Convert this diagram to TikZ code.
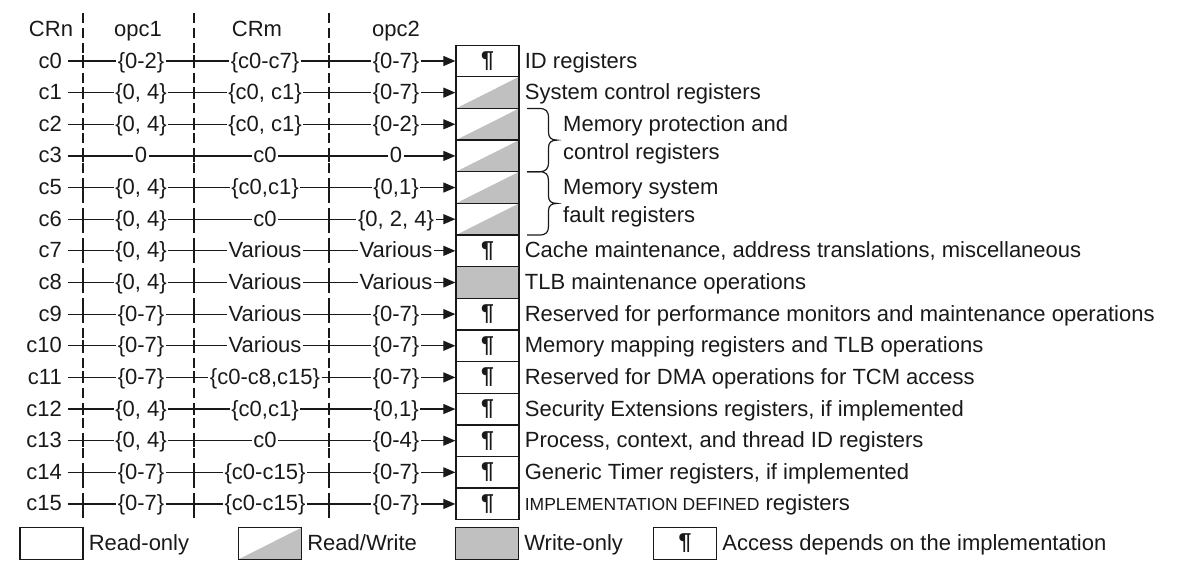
\documentclass[tikz,border=0pt]{standalone}
\usepackage{fontspec}
\setmainfont{Liberation Sans}
\usepackage{tikz}
\usetikzlibrary{arrows.meta,positioning}

\definecolor{ink}{RGB}{25,25,25}
\definecolor{regfill}{RGB}{192,192,192}

\tikzset{
  lab/.style={inner ysep=0pt, text height=16pt, text depth=2pt},
  crnlab/.style={lab, anchor=east, inner xsep=6pt},
  fld/.style={lab, inner xsep=1.5pt},
  reg/.style={draw=ink, line width=1.3pt, minimum width=63pt, minimum height=31.64pt, inner sep=0pt, font=\fontsize{23}{26}\bfseries},
  ro/.style={reg},
  rw/.style={reg, path picture={\fill[regfill] (path picture bounding box.south west) -- (path picture bounding box.north east) -- (path picture bounding box.south east) -- cycle;}},
  wo/.style={reg, fill=regfill},
  impl/.style={reg},
  desc/.style={lab, anchor=west, inner xsep=0pt},
  bracetxt/.style={anchor=west, align=left, inner sep=0pt, font=\fontsize{22}{28}\selectfont},
  rowline/.style={line width=1.2pt, -{Triangle[length=12pt,width=10pt]}},
  tick/.style={line width=1.3pt},
  divider/.style={line width=2.4pt, dash pattern=on 10pt off 5pt},
  curly/.style={line width=1.2pt},
}

% one register row: name, y, opc1, CRm, opc2, box style, box text
\newcommand{\regrow}[7]{%
  \node[crnlab] (#1-crn) at (68,#2) {#1};
  \node[fld] (#1-opc1) at (141,#2) {#3};
  \node[fld] (#1-crm) at (265,#2) {#4};
  \node[fld] (#1-opc2) at (396,#2) {#5};
  \node[#6] (#1-reg) at (487.5,#2) {#7};
  \draw[rowline] (#1-crn) -- (#1-opc1) -- (#1-crm) -- (#1-opc2) -- (#1-reg);
  \draw[tick] (83,#2) +(0,-6) -- +(0,6);
  \draw[tick] (194,#2) +(0,-6) -- +(0,6);
  \draw[tick] (329,#2) +(0,-6) -- +(0,6);
}

\begin{document}
\begin{tikzpicture}[x=1pt, y=-1pt, color=ink, font=\fontsize{22}{26}\selectfont]
  \useasboundingbox (0,0) rectangle (1200,576);

  % column heads and dividers
  \node[lab] (crn-head) at (51,29) {CRn};
  \node[lab] (opc1-head) at (138,29) {opc1};
  \node[lab] (crm-head) at (257,29) {CRm};
  \node[lab] (opc2-head) at (396,29) {opc2};
  \draw[divider] (83,13) -- (83,518);
  \draw[divider] (194,13) -- (194,518);
  \draw[divider] (329,13) -- (329,518);

  \regrow{c0}{61}{\{0-2\}}{\{c0-c7\}}{\{0-7\}}{impl}{¶}
  \regrow{c1}{92.64}{\{0, 4\}}{\{c0, c1\}}{\{0-7\}}{rw}{}
  \regrow{c2}{124.28}{\{0, 4\}}{\{c0, c1\}}{\{0-2\}}{rw}{}
  \regrow{c3}{155.92}{0}{c0}{0}{rw}{}
  \regrow{c5}{187.56}{\{0, 4\}}{\{c0,c1\}}{\{0,1\}}{rw}{}
  \regrow{c6}{219.2}{\{0, 4\}}{c0}{\{0, 2, 4\}}{rw}{}
  \regrow{c7}{250.84}{\{0, 4\}}{Various}{Various}{impl}{¶}
  \regrow{c8}{282.48}{\{0, 4\}}{Various}{Various}{wo}{}
  \regrow{c9}{314.12}{\{0-7\}}{Various}{\{0-7\}}{impl}{¶}
  \regrow{c10}{345.76}{\{0-7\}}{Various}{\{0-7\}}{impl}{¶}
  \regrow{c11}{377.4}{\{0-7\}}{\{c0-c8,c15\}}{\{0-7\}}{impl}{¶}
  \regrow{c12}{409.04}{\{0, 4\}}{\{c0,c1\}}{\{0,1\}}{impl}{¶}
  \regrow{c13}{440.68}{\{0, 4\}}{c0}{\{0-4\}}{impl}{¶}
  \regrow{c14}{472.32}{\{0-7\}}{\{c0-c15\}}{\{0-7\}}{impl}{¶}
  \regrow{c15}{503.96}{\{0-7\}}{\{c0-c15\}}{\{0-7\}}{impl}{¶}

  % descriptions
  \node[desc, right=5pt of c0-reg] (c0-desc) {ID registers};
  \node[desc, right=5pt of c1-reg] (c1-desc) {System control registers};
  \node[desc, right=5pt of c7-reg] (c7-desc) {Cache maintenance, address translations, miscellaneous};
  \node[desc, right=5pt of c8-reg] (c8-desc) {TLB maintenance operations};
  \node[desc, right=5pt of c9-reg] (c9-desc) {Reserved for performance monitors and maintenance operations};
  \node[desc, right=5pt of c10-reg] (c10-desc) {Memory mapping registers and TLB operations};
  \node[desc, right=5pt of c11-reg] (c11-desc) {Reserved for DMA operations for TCM access};
  \node[desc, right=5pt of c12-reg] (c12-desc) {Security Extensions registers, if implemented};
  \node[desc, right=5pt of c13-reg] (c13-desc) {Process, context, and thread ID registers};
  \node[desc, right=5pt of c14-reg] (c14-desc) {Generic Timer registers, if implemented};
  \node[desc, right=5pt of c15-reg] (c15-desc) {{\fontsize{17.5}{20}\selectfont IMPLEMENTATION DEFINED} registers};

  % braces
  \draw[curly] (527,108.5) -- (539,108.5) .. controls (546,108.5) and (548.5,111) .. (548.5,118)
    -- (548.5,132) .. controls (548.5,137.5) and (551,140.1) .. (557,140.1)
    .. controls (551,140.1) and (548.5,142.7) .. (548.5,148) -- (548.5,162)
    .. controls (548.5,169) and (546,171.7) .. (539,171.7) -- (527,171.7);
  \draw[curly] (527,171.7) -- (539,171.7) .. controls (546,171.7) and (548.5,174.2) .. (548.5,181)
    -- (548.5,196) .. controls (548.5,201) and (551,203.4) .. (557,203.4)
    .. controls (551,203.4) and (548.5,206) .. (548.5,211) -- (548.5,226)
    .. controls (548.5,232.5) and (546,235) .. (539,235) -- (527,235);
  \node[bracetxt] (mpu-note) at (563,140.1) {Memory protection and\\control registers};
  \node[bracetxt] (fault-note) at (563,203.4) {Memory system\\fault registers};

  % key
  \node[ro] (ro-key) at (51.5,543.5) {};
  \node[desc, right=5pt of ro-key] (ro-text) {Read-only};
  \node[rw] (rw-key) at (270,543.5) {};
  \node[desc, right=5pt of rw-key] (rw-text) {Read/Write};
  \node[wo] (wo-key) at (487,543.5) {};
  \node[desc, right=5pt of wo-key] (wo-text) {Write-only};
  \node[impl] (impl-key) at (685,543.5) {¶};
  \node[desc, right=5pt of impl-key] (impl-text) {Access depends on the implementation};
\end{tikzpicture}
\end{document}
